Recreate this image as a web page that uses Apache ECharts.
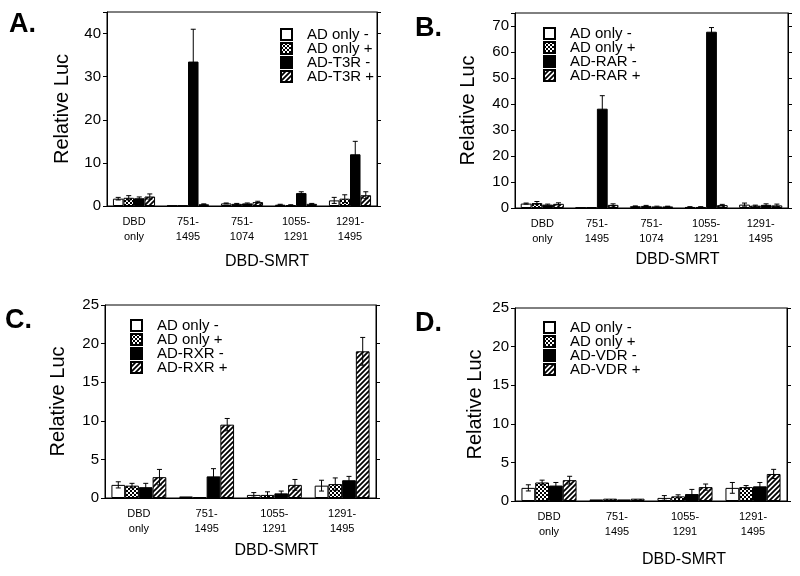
<!DOCTYPE html>
<html>
<head>
<meta charset="utf-8">
<script src="https://cdn.jsdelivr.net/npm/echarts@6/dist/echarts.min.js"></script>
<style>html,body{margin:0;padding:0;background:#fff}#c{width:800px;height:576px}</style>
</head>
<body>
<div id="c"></div>
<script>
// ---- data ----
const catsAB = ['DBD\nonly', '751-\n1495', '751-\n1074', '1055-\n1291', '1291-\n1495'];
const catsCD = ['DBD\nonly', '751-\n1495', '1055-\n1291', '1291-\n1495'];

const namesA = ['AD only -', 'AD only +', 'AD-T3R -', 'AD-T3R +'];
const namesB = ['AD only -', 'AD only +', 'AD-RAR -', 'AD-RAR +'];
const namesC = ['AD only -', 'AD only +', 'AD-RXR -', 'AD-RXR +'];
const namesD = ['AD only -', 'AD only +', 'AD-VDR -', 'AD-VDR +'];

const adMinusA = [1.7, 0.1, 0.6, 0.3, 1.3];
const adPlusA = [1.9, 0.1, 0.5, 0.2, 1.7];
const t3rMinusA = [1.8, 33.5, 0.6, 3.0, 12.0];
const t3rPlusA = [2.2, 0.4, 0.9, 0.5, 2.5];
const adMinusAErr = [0.3, 0, 0.1, 0.1, 0.7];
const adPlusAErr = [0.5, 0, 0.1, 0.1, 0.9];
const t3rMinusAErr = [0.3, 7.5, 0.1, 0.3, 3.0];
const t3rPlusAErr = [0.6, 0.1, 0.2, 0.1, 0.8];

const adMinusB = [1.7, 0.2, 0.7, 0.4, 1.3];
const adPlusB = [1.9, 0.3, 0.8, 0.4, 0.9];
const rarMinusB = [1.3, 38.2, 0.6, 67.8, 1.2];
const rarPlusB = [1.6, 1.2, 0.6, 1.1, 1.0];
const adMinusBErr = [0.2, 0, 0.1, 0.1, 0.6];
const adPlusBErr = [0.6, 0, 0.2, 0.1, 0.2];
const rarMinusBErr = [0.2, 5.0, 0.1, 1.6, 0.4];
const rarPlusBErr = [0.4, 0.4, 0.1, 0.3, 0.5];

const adMinusC = [1.7, 0.2, 0.4, 1.6];
const adPlusC = [1.6, 0.1, 0.4, 1.8];
const rxrMinusC = [1.4, 2.8, 0.6, 2.3];
const rxrPlusC = [2.7, 9.5, 1.7, 19.0];
const adMinusCErr = [0.4, 0, 0.3, 0.7];
const adPlusCErr = [0.3, 0, 0.4, 0.8];
const rxrMinusCErr = [0.5, 1.0, 0.3, 0.5];
const rxrPlusCErr = [1.0, 0.8, 0.7, 1.8];

const adMinusD = [1.7, 0.2, 0.4, 1.7];
const adPlusD = [2.4, 0.3, 0.6, 1.8];
const vdrMinusD = [2.0, 0.2, 0.9, 1.9];
const vdrPlusD = [2.7, 0.3, 1.8, 3.5];
const adMinusDErr = [0.4, 0, 0.3, 0.7];
const adPlusDErr = [0.3, 0, 0.2, 0.2];
const vdrMinusDErr = [0.4, 0, 0.6, 0.5];
const vdrPlusDErr = [0.5, 0, 0.4, 0.6];

const yMaxA = 45, yMaxB = 75, yMaxC = 25, yMaxD = 25;
const yStepA = 10, yStepB = 10, yStepC = 5, yStepD = 5;

// ---- patterns ----
function crossPattern() {
  const c = document.createElement('canvas'); c.width = 4; c.height = 4;
  const g = c.getContext('2d');
  g.fillStyle = '#fff'; g.fillRect(0, 0, 4, 4);
  g.fillStyle = '#000'; g.fillRect(0, 0, 2, 2); g.fillRect(2, 2, 2, 2);
  return c;
}
function diagPattern() {
  const s = 5;
  const c = document.createElement('canvas'); c.width = s; c.height = s;
  const g = c.getContext('2d');
  g.fillStyle = '#fff'; g.fillRect(0, 0, s, s);
  g.strokeStyle = '#000'; g.lineWidth = 1.8;
  g.beginPath();
  g.moveTo(-1, s + 1); g.lineTo(s + 1, -1);
  g.moveTo(-1, 1); g.lineTo(1, -1);
  g.moveTo(s - 1, s + 1); g.lineTo(s + 1, s - 1);
  g.stroke();
  return c;
}
const fills = ['#ffffff', { image: crossPattern(), repeat: 'repeat' }, '#000000', { image: diagPattern(), repeat: 'repeat' }];

const panels = [
  { letter: 'A.', cats: catsAB, names: namesA, vals: [adMinusA, adPlusA, t3rMinusA, t3rPlusA], errs: [adMinusAErr, adPlusAErr, t3rMinusAErr, t3rPlusAErr], max: yMaxA, step: yStepA,
    grid: { left: 107, top: 12, width: 270, height: 194 }, gap: 0.22, letterPos: [9, 11], legendPos: [280, 27], nameGapY: 35, nameGapX: 48, nameShift: 50 },
  { letter: 'B.', cats: catsAB, names: namesB, vals: [adMinusB, adPlusB, rarMinusB, rarPlusB], errs: [adMinusBErr, adPlusBErr, rarMinusBErr, rarPlusBErr], max: yMaxB, step: yStepB,
    grid: { left: 515, top: 13, width: 273, height: 195 }, gap: 0.21, letterPos: [415, 15], legendPos: [543, 26], nameGapY: 37, nameGapX: 44, nameShift: 52 },
  { letter: 'C.', cats: catsCD, names: namesC, vals: [adMinusC, adPlusC, rxrMinusC, rxrPlusC], errs: [adMinusCErr, adPlusCErr, rxrMinusCErr, rxrPlusCErr], max: yMaxC, step: yStepC,
    grid: { left: 105, top: 305, width: 271, height: 193 }, gap: 0.19, letterPos: [5, 307], legendPos: [130, 318], nameGapY: 37, nameGapX: 45, nameShift: 72 },
  { letter: 'D.', cats: catsCD, names: namesD, vals: [adMinusD, adPlusD, vdrMinusD, vdrPlusD], errs: [adMinusDErr, adPlusDErr, vdrMinusDErr, vdrPlusDErr], max: yMaxD, step: yStepD,
    grid: { left: 515, top: 308, width: 272, height: 193 }, gap: 0.19, letterPos: [415, 310], legendPos: [543, 320], nameGapY: 30, nameGapX: 51, nameShift: 66 }
];

const FONT = 'Liberation Sans, Arial, Helvetica, sans-serif';
const option = { animation: false, backgroundColor: '#fff', title: [], grid: [], xAxis: [], yAxis: [], legend: [], series: [] };

panels.forEach((p, pi) => {
  option.title.push({ text: p.letter, left: p.letterPos[0], top: p.letterPos[1], padding: 0,
    textStyle: { fontFamily: FONT, fontSize: 27, fontWeight: 'bold', color: '#000' } });
  option.grid.push(Object.assign({ show: true, borderColor: '#000', borderWidth: 1, backgroundColor: 'transparent', containLabel: false }, p.grid));
  option.xAxis.push({ type: 'category', gridIndex: pi, data: p.cats, name: 'DBD-SMRT', nameLocation: 'middle', nameGap: p.nameGapX,
    nameTextStyle: { fontFamily: FONT, fontSize: 16, color: '#000', padding: [0, 0, 0, p.nameShift] },
    axisLine: { lineStyle: { color: '#000', width: 1 } }, axisTick: { show: false },
    axisLabel: { fontFamily: FONT, fontSize: 11, color: '#000', lineHeight: 15, margin: 8, interval: 0 } });
  const step = p.step;
  option.yAxis.push({ type: 'value', gridIndex: pi, min: 0, max: p.max, interval: p.step, name: 'Relative Luc', nameLocation: 'middle', nameGap: p.nameGapY,
    nameTextStyle: { fontFamily: FONT, fontSize: 20, color: '#000' },
    splitLine: { show: false }, axisLine: { show: true, lineStyle: { color: '#000', width: 1 } },
    axisTick: { show: true, length: 4, lineStyle: { color: '#000' } },
    axisLabel: { fontFamily: FONT, fontSize: 15, color: '#000', margin: 6, formatter: v => (v % step === 0 ? String(v) : '') } });
  option.yAxis.push({ type: 'value', gridIndex: pi, position: 'right', min: 0, max: p.max, interval: p.step,
    splitLine: { show: false }, axisLine: { show: true, lineStyle: { color: '#000', width: 1 } },
    axisTick: { show: true, length: 4, lineStyle: { color: '#000' } }, axisLabel: { show: false } });
  option.legend.push({ orient: 'vertical', left: p.legendPos[0], top: p.legendPos[1], padding: 0, itemGap: -1,
    itemWidth: 11, itemHeight: 11, icon: 'rect', data: p.names.map(n => ({ name: n })),
    textStyle: { fontFamily: FONT, fontSize: 15, color: '#000', padding: [0, 0, 0, 10] }, selectedMode: false });
  p.vals.forEach((v, si) => {
    option.series.push({ type: 'bar', name: p.names[si], xAxisIndex: pi, yAxisIndex: pi * 2, data: v,
      barGap: '0%', barCategoryGap: (p.gap * 100) + '%',
      itemStyle: { color: fills[si], borderColor: '#000', borderWidth: 1 }, emphasis: { disabled: true } });
  });
  const errData = [];
  p.vals.forEach((v, si) => v.forEach((val, ci) => errData.push([ci, val, p.errs[si][ci], si])));
  const gap = p.gap;
  option.series.push({ type: 'custom', xAxisIndex: pi, yAxisIndex: pi * 2, data: errData, z: 10, silent: true,
    renderItem: function (params, api) {
      const ci = api.value(0), val = api.value(1), err = api.value(2), si = api.value(3);
      if (!err) return null;
      const band = api.size([1, 0])[0];
      const bw = band * (1 - gap) / 4;
      const c = api.coord([ci, val]);
      const x = c[0] - 2 * bw + (si + 0.5) * bw;
      const yt = api.coord([ci, val + err])[1];
      const yb = api.coord([ci, Math.max(val - err, 0)])[1];
      const cw = 2.5;
      const kids = [
        { type: 'line', shape: { x1: x, y1: yt, x2: x, y2: yb }, style: { stroke: '#000', lineWidth: 1 } },
        { type: 'line', shape: { x1: x - cw, y1: yt, x2: x + cw, y2: yt }, style: { stroke: '#000', lineWidth: 1 } }
      ];
      if (si !== 2) kids.push({ type: 'line', shape: { x1: x - cw, y1: yb, x2: x + cw, y2: yb }, style: { stroke: '#000', lineWidth: 1 } });
      return { type: 'group', children: kids };
    } });
});

const chart = echarts.init(document.getElementById('c'), null, { renderer: 'canvas' });
chart.setOption(option);
</script>
</body>
</html>
